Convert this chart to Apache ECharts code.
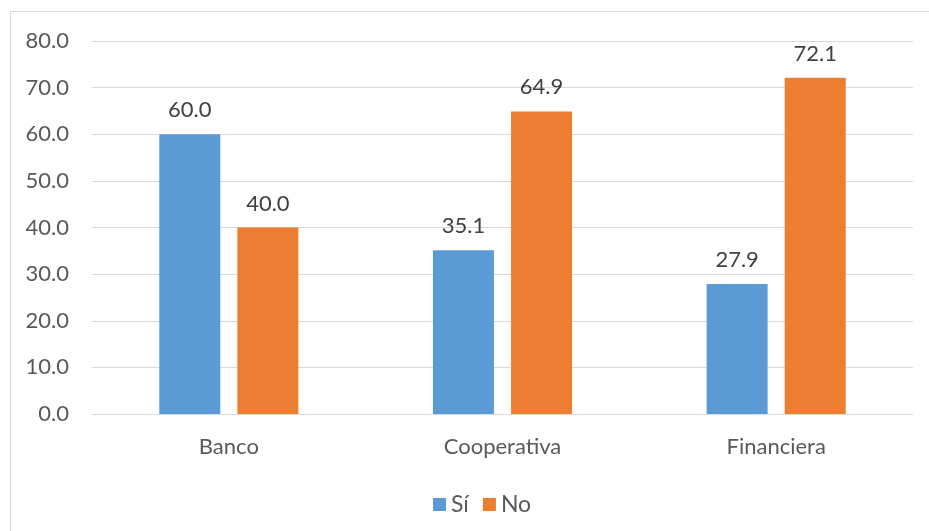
<!DOCTYPE html>
<html><head><meta charset="utf-8">
<script src="https://cdn.jsdelivr.net/npm/echarts@6/dist/echarts.min.js"></script>
<style>html,body{margin:0;padding:0;background:#fff}#c{width:929px;height:531px}</style>
</head><body><div id="c"></div>
<script>
const categories = ['Banco', 'Cooperativa', 'Financiera'];
const seriesNames = ['Sí', 'No'];
const siValues = [60.0, 35.1, 27.9];
const noValues = [40.0, 64.9, 72.1];
const yTicks = {min: 0, max: 80, interval: 10};

const FONT = 'Lato';
const FS = 22;
const chart = echarts.init(document.getElementById('c'), null, {renderer: 'canvas'});
const labelCfg = {
  show: true, position: 'top', distance: 13,
  fontFamily: FONT, fontSize: FS, color: '#404040',
  formatter: p => p.value.toFixed(1)
};
chart.setOption({
  animation: false,
  backgroundColor: '#fff',
  graphic: [{
    type: 'rect', silent: true, z: -1,
    shape: {x: 10.5, y: 11.5, width: 1000, height: 1000},
    style: {fill: 'none', stroke: '#d9d9d9', lineWidth: 1}
  }],
  grid: {left: 92, right: 16, top: 41, bottom: 117, containLabel: false},
  legend: {
    data: seriesNames, top: 488, left: 428,
    itemWidth: 13, itemHeight: 13, itemGap: 14, icon: 'rect',
    textStyle: {fontFamily: FONT, fontSize: 23, color: '#595959'}
  },
  xAxis: {
    type: 'category', data: categories,
    axisLine: {lineStyle: {color: '#d9d9d9', width: 1}},
    axisTick: {show: false},
    axisLabel: {fontFamily: FONT, fontSize: FS, color: '#595959', margin: 22}
  },
  yAxis: {
    type: 'value', min: yTicks.min, max: yTicks.max, interval: yTicks.interval,
    axisLine: {show: false}, axisTick: {show: false},
    splitLine: {lineStyle: {color: '#d9d9d9', width: 1}},
    axisLabel: {fontFamily: FONT, fontSize: FS, color: '#595959', margin: 23,
      formatter: v => v.toFixed(1)}
  },
  series: [
    {name: seriesNames[0], type: 'bar', data: siValues, barWidth: 61, barGap: '28%',
      itemStyle: {color: '#5B9BD5'}, label: labelCfg},
    {name: seriesNames[1], type: 'bar', data: noValues, barWidth: 61, barGap: '28%',
      itemStyle: {color: '#ED7D31'}, label: labelCfg}
  ]
});
</script></body></html>
